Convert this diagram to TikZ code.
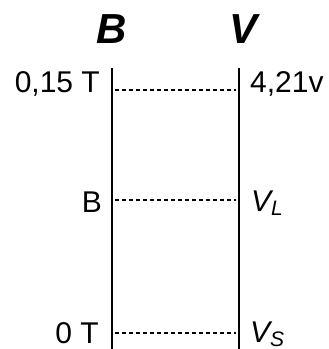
\documentclass[tikz,border=0pt]{standalone}
\usepackage{fontspec}
\setmainfont{Liberation Sans}
\newcommand\subtxt[1]{\raisebox{-4pt}{\fontsize{21}{21}\selectfont\itshape #1}}
\begin{document}
\begin{tikzpicture}[x=1pt,y=-1pt,
  lbl/.style={inner sep=0pt,font=\fontsize{30}{36}\selectfont},
  hdr/.style={inner sep=0pt,font=\fontsize{42}{48}\selectfont\bfseries\itshape},
  axisline/.style={line width=1.9pt,black},
  guide/.style={line width=1.2pt,black,dash pattern=on 4pt off 3pt}]
\useasboundingbox (0,0) rectangle (329,349);
% headers
\node[hdr,anchor=base] (hB) at (112,43) {B};
\node[hdr,anchor=base] (hV) at (244,43) {V};
% axes
\coordinate (Btop) at (112,68);
\coordinate (Bbot) at (112,350);
\coordinate (Vtop) at (239,68);
\coordinate (Vbot) at (239,350);
\draw[axisline] (Btop) -- (Bbot);
\draw[axisline] (Vtop) -- (Vbot);
% guide endpoints
\coordinate (b1) at (115,90);  \coordinate (v1) at (236,90);
\coordinate (b2) at (115,200); \coordinate (v2) at (236,200);
\coordinate (b3) at (115,333); \coordinate (v3) at (236,333);
\draw[guide] (b1) -- (v1);
\draw[guide] (b2) -- (v2);
\draw[guide] (b3) -- (v3);
% left labels
\node[lbl,anchor=base east] (l1) at (100,92) {0,15 T};
\node[lbl,anchor=base east] (l2) at (102,212) {B};
\node[lbl,anchor=base east] (l3) at (99,343) {0 T};
% right labels
\node[lbl,anchor=base west] (r1) at (250,92) {4,21v};
\node[lbl,anchor=base west] (r2) at (251,211) {\itshape V\subtxt{L}};
\node[lbl,anchor=base west] (r3) at (250,342) {\itshape V\subtxt{S}};
\end{tikzpicture}
\end{document}
